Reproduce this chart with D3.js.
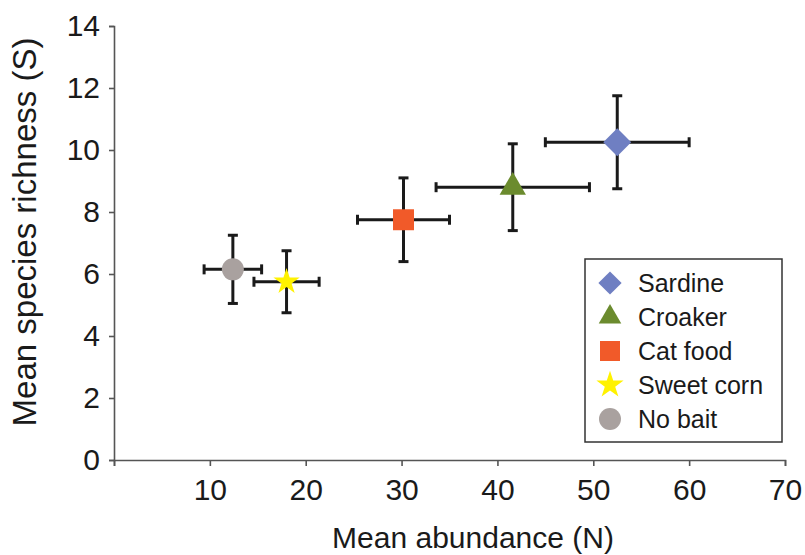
<!DOCTYPE html>
<html>
<head>
<meta charset="utf-8">
<script src="https://cdn.jsdelivr.net/npm/d3@7"></script>
<style>
  body { margin: 0; background: #fff; }
  svg text { font-family: "Liberation Sans", Arial, sans-serif; fill: #1a1a1a; }
</style>
</head>
<body>
<div id="chart"></div>
<script>
// data
const baits = ["Sardine", "Croaker", "Cat food", "Sweet corn", "No bait"];
const abundance = [52.5, 41.6, 30.2, 18.0, 12.4];
const abundanceErr = [7.5, 8.0, 4.8, 3.4, 3.0];
const richness = [10.25, 8.8, 7.75, 5.75, 6.15];
const richnessErr = [1.5, 1.4, 1.35, 1.0, 1.1];
const xTicks = [0, 10, 20, 30, 40, 50, 60, 70];
const yTicks = [0, 2, 4, 6, 8, 10, 12, 14];

const colors = ["#6f7fc2", "#6b8b2e", "#f15a29", "#fff200", "#a9a19f"];
const shapes = ["diamond", "triangle", "square", "star", "circle"];

const W = 805, H = 555;
const svg = d3.select("#chart").append("svg")
    .attr("width", W)
    .attr("height", H);

// scales
const x = d3.scaleLinear().domain([0, 70]).range([114, 785]);
const y = d3.scaleLinear().domain([0, 14]).range([460, 26]);

// axes
const xAxis = svg.append("g")
    .attr("transform", `translate(0,${y(0)})`)
    .call(d3.axisBottom(x).tickValues(xTicks).tickSize(6).tickPadding(13)
        .tickFormat(d => d === 0 ? "" : d));
const yAxis = svg.append("g")
    .attr("transform", `translate(${x(0)},0)`)
    .call(d3.axisLeft(y).tickValues(yTicks).tickSize(5).tickPadding(9));

[xAxis, yAxis].forEach(a => {
    a.select(".domain").attr("stroke", "#555").attr("stroke-width", 1.6);
    a.selectAll(".tick line").attr("stroke", "#555").attr("stroke-width", 1.6);
    a.selectAll(".tick text").attr("font-size", 30).attr("fill", "#1a1a1a")
        .attr("font-family", "Liberation Sans, Arial, sans-serif");
});

// axis labels
svg.append("text")
    .attr("x", (333 + 613) / 2)
    .attr("y", 548)
    .attr("text-anchor", "middle")
    .attr("font-size", 30)
    .text("Mean abundance (N)");

svg.append("text")
    .attr("transform", "rotate(-90)")
    .attr("x", -232)
    .attr("y", 36)
    .attr("text-anchor", "middle")
    .attr("font-size", 33)
    .text("Mean species richness (S)");

// symbol helper
function symbolPath(shape, s) {
    if (shape === "diamond") return d3.symbol(d3.symbolSquare, s.diamond)();
    if (shape === "triangle") return d3.symbol(d3.symbolTriangle, s.triangle)();
    if (shape === "square") return d3.symbol(d3.symbolSquare, s.square)();
    if (shape === "star") return d3.symbol(d3.symbolStar, s.star)();
    return d3.symbol(d3.symbolCircle, s.circle)();
}
const plotSizes = { diamond: 390, triangle: 300, square: 440, star: 215, circle: 380 };
const legendSizes = { diamond: 270, triangle: 220, square: 400, star: 230, circle: 380 };

const points = baits.map((b, i) => ({
    bait: b,
    n: abundance[i], nErr: abundanceErr[i],
    s: richness[i], sErr: richnessErr[i],
    color: colors[i], shape: shapes[i]
}));

// error bars
const cap = 5;
const bars = svg.append("g")
    .attr("stroke", "#1a1a1a")
    .attr("stroke-width", 3)
    .attr("fill", "none");

points.forEach(d => {
    const cx = x(d.n), cy = y(d.s);
    const x0 = x(d.n - d.nErr), x1 = x(d.n + d.nErr);
    const y0 = y(d.s - d.sErr), y1 = y(d.s + d.sErr);
    bars.append("line").attr("x1", x0).attr("x2", x1).attr("y1", cy).attr("y2", cy);
    bars.append("line").attr("x1", x0).attr("x2", x0).attr("y1", cy - cap).attr("y2", cy + cap);
    bars.append("line").attr("x1", x1).attr("x2", x1).attr("y1", cy - cap).attr("y2", cy + cap);
    bars.append("line").attr("x1", cx).attr("x2", cx).attr("y1", y0).attr("y2", y1);
    bars.append("line").attr("x1", cx - cap).attr("x2", cx + cap).attr("y1", y0).attr("y2", y0);
    bars.append("line").attr("x1", cx - cap).attr("x2", cx + cap).attr("y1", y1).attr("y2", y1);
});

// markers
svg.append("g").selectAll("path")
    .data(points)
    .enter()
    .append("path")
    .attr("d", d => symbolPath(d.shape, plotSizes))
    .attr("transform", d => `translate(${x(d.n)},${y(d.s)})` + (d.shape === "diamond" ? " rotate(45)" : ""))
    .attr("fill", d => d.color);

// legend
const legend = svg.append("g");
legend.append("rect")
    .attr("x", 585).attr("y", 259)
    .attr("width", 197).attr("height", 183)
    .attr("fill", "#fff")
    .attr("stroke", "#333")
    .attr("stroke-width", 1.5);

const rows = legend.selectAll("g.row")
    .data(points)
    .enter()
    .append("g")
    .attr("class", "row")
    .attr("transform", (d, i) => `translate(0,${283 + i * 34})`);

rows.append("path")
    .attr("d", d => symbolPath(d.shape, legendSizes))
    .attr("transform", d => "translate(610,0)" + (d.shape === "diamond" ? " rotate(45)" : ""))
    .attr("fill", d => d.color);

rows.append("text")
    .attr("x", 638)
    .attr("y", 9)
    .attr("font-size", 25)
    .text(d => d.bait);
</script>
</body>
</html>
